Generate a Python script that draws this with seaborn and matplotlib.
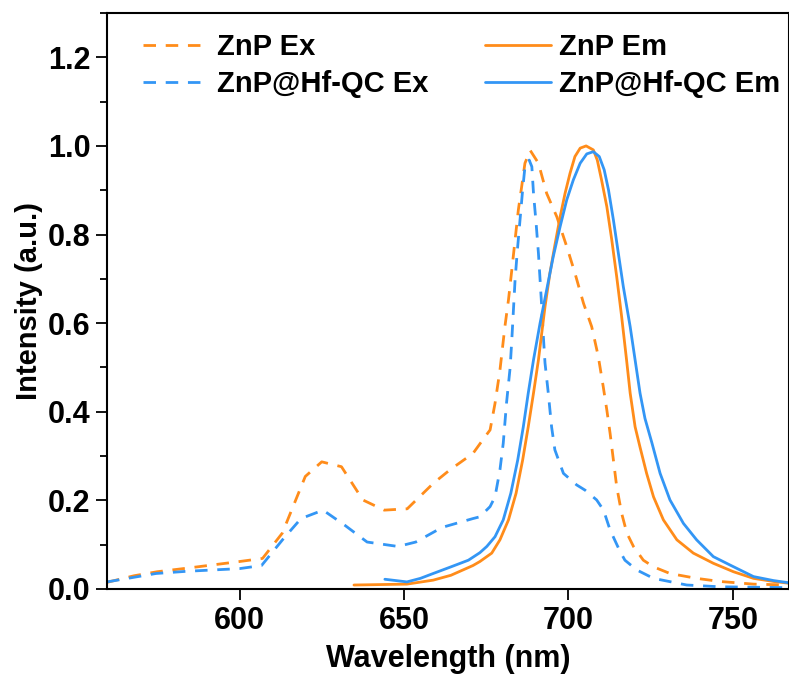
import numpy as np
import pandas as pd
import matplotlib
matplotlib.use("Agg")
import matplotlib.pyplot as plt
import seaborn as sns
from matplotlib.ticker import MultipleLocator

# ---- data ----
znp_ex_wl = [559.7, 568, 575, 584, 600, 607, 613, 620, 625, 631, 637.5, 644, 651, 659, 664,
             671, 674.7, 676.2, 677.7, 679.2, 680.7, 681.8, 682.8, 683.8, 684.8, 685.8, 686.8,
             688.4, 690.9, 693.4, 696.5, 699.5, 702.0, 704.6, 707.1, 709.1, 710.6, 711.7, 712.7,
             713.7, 714.7, 716.2, 717.8, 719.8, 722.8, 725.9, 730.9, 739.0, 746.1, 756.3, 767.1]
znp_ex_int = [0.015, 0.030, 0.039, 0.047, 0.062, 0.069, 0.126, 0.254, 0.287, 0.276, 0.201, 0.178,
              0.181, 0.239, 0.269, 0.306, 0.344, 0.359, 0.419, 0.494, 0.592, 0.653, 0.720, 0.788,
              0.856, 0.908, 0.961, 0.990, 0.961, 0.893, 0.840, 0.773, 0.713, 0.645, 0.592, 0.525,
              0.457, 0.404, 0.351, 0.291, 0.231, 0.171, 0.126, 0.096, 0.065, 0.050, 0.035, 0.024,
              0.017, 0.011, 0.009]

hf_ex_wl = [559.7, 574.6, 584, 600, 606.7, 613.4, 618.7, 625.4, 632, 638.8, 648.2, 653.6, 661.6,
            671, 673.1, 676.2, 677.7, 679.2, 680.2, 681.2, 682.3, 682.8, 683.3, 683.8, 684.5,
            685.3, 686.1, 686.8, 688.1, 688.9, 689.4, 690.2, 690.9, 691.4, 691.9, 692.4, 692.9,
            693.9, 694.9, 695.9, 698.5, 702.5, 705.1, 708.6, 710.7, 712.7, 715.7, 717.2, 720.8,
            725.9, 736.0, 746.1, 767.1]
hf_ex_int = [0.016, 0.035, 0.040, 0.046, 0.053, 0.114, 0.159, 0.178, 0.144, 0.106, 0.096, 0.106,
             0.139, 0.159, 0.163, 0.186, 0.208, 0.269, 0.329, 0.420, 0.500, 0.562, 0.630, 0.698,
             0.765, 0.833, 0.901, 0.953, 0.968, 0.953, 0.893, 0.825, 0.758, 0.698, 0.637, 0.570,
             0.510, 0.442, 0.366, 0.314, 0.261, 0.235, 0.223, 0.201, 0.178, 0.133, 0.085, 0.065,
             0.043, 0.024, 0.009, 0.005, 0.003]

znp_em_wl = [634.8, 650.9, 658.9, 664.3, 671, 673.1, 676.7, 679.2, 681.8, 684.1, 686.1, 687.8,
             689.4, 690.9, 692.9, 694.4, 696.0, 697.5, 699.0, 700.5, 702.0, 703.6, 705.4, 707.6,
             708.8, 710.1, 711.7, 713.2, 714.7, 716.2, 717.7, 718.8, 720.3, 721.8, 723.8, 725.9,
             728.9, 733.0, 738.0, 744.1, 750.2, 756.3, 762.4, 767.1]
znp_em_int = [0.009, 0.011, 0.020, 0.031, 0.053, 0.062, 0.081, 0.111, 0.156, 0.216, 0.291, 0.366,
              0.442, 0.517, 0.637, 0.713, 0.780, 0.840, 0.893, 0.938, 0.976, 0.995, 1.000, 0.991,
              0.968, 0.923, 0.863, 0.788, 0.705, 0.615, 0.517, 0.442, 0.366, 0.320, 0.261, 0.208,
              0.156, 0.111, 0.081, 0.058, 0.039, 0.024, 0.017, 0.013]

hf_em_wl = [644.2, 650.9, 655, 658.9, 664.3, 669.6, 673.1, 675.2, 677.7, 680.2, 682.5, 684.6,
            686.3, 687.8, 689.4, 691.4, 693.4, 695.4, 697.5, 699.5, 701.5, 703.6, 705.6, 707.6,
            709.4, 710.9, 712.2, 713.7, 715.2, 716.7, 718.8, 720.3, 721.8, 723.3, 725.4, 727.9,
            730.9, 735.0, 739.0, 744.1, 749.2, 756.3, 762.4, 767.1]
hf_em_int = [0.022, 0.016, 0.024, 0.035, 0.050, 0.065, 0.082, 0.096, 0.118, 0.156, 0.216, 0.291,
             0.366, 0.442, 0.517, 0.600, 0.675, 0.750, 0.818, 0.878, 0.923, 0.961, 0.982, 0.987,
             0.976, 0.946, 0.901, 0.833, 0.758, 0.683, 0.592, 0.517, 0.442, 0.385, 0.330, 0.261,
             0.201, 0.148, 0.111, 0.073, 0.054, 0.028, 0.019, 0.014]

labels = ["ZnP Ex", "ZnP@Hf-QC Ex", "ZnP Em", "ZnP@Hf-QC Em"]
x_ticks = [600, 650, 700, 750]
y_ticks = [0.0, 0.2, 0.4, 0.6, 0.8, 1.0, 1.2]

ORANGE = "#FF8C1A"
BLUE = "#3396F5"

sns.set_theme(style="ticks")
plt.rcParams['font.family'] = ['Liberation Sans', 'DejaVu Sans']
plt.rcParams['font.weight'] = 'bold'
for k in ['text.color', 'axes.labelcolor', 'xtick.color', 'ytick.color', 'axes.edgecolor']:
    plt.rcParams[k] = 'black'

fig = plt.figure(figsize=(7.89, 6.79), dpi=100)
ax = fig.add_axes([107/789, 1-589/679, 1-107/789, (589-13)/679])

series = [
    (znp_ex_wl, znp_ex_int, labels[0], ORANGE, "--"),
    (hf_ex_wl, hf_ex_int, labels[1], BLUE, "--"),
    (znp_em_wl, znp_em_int, labels[2], ORANGE, "-"),
    (hf_em_wl, hf_em_int, labels[3], BLUE, "-"),
]
for wl, it, lab, col, ls in series:
    df = pd.DataFrame({"wl": wl, "I": it})
    sns.lineplot(data=df, x="wl", y="I", ax=ax, color=col, lw=2.0, label=lab,
                 sort=False, estimator=None)
    line = ax.lines[-1]
    if ls == "--":
        line.set_dashes((4.5, 3.5))

ax.set_xlim(559.7, 767.1)
ax.set_ylim(0, 1.3)
ax.set_xticks(x_ticks)
ax.set_yticks(y_ticks)
ax.yaxis.set_minor_locator(MultipleLocator(0.1))
ax.set_yticklabels([f"{v:.1f}" for v in y_ticks])
ax.tick_params(axis='both', which='major', direction='out', length=8, width=1.3,
               labelsize=22, pad=4)
ax.tick_params(axis='y', which='minor', direction='out', length=5, width=1.3)
for lab in ax.get_xticklabels() + ax.get_yticklabels():
    lab.set_fontweight('bold')
for s in ax.spines.values():
    s.set_linewidth(1.5)
    s.set_color('black')
ax.set_xlabel("Wavelength (nm)", fontsize=22, fontweight='bold', labelpad=6)
ax.set_ylabel("Intensity (a.u.)", fontsize=21, fontweight='bold', labelpad=3)

leg = ax.legend(ncol=2, loc='upper left', frameon=False, fontsize=21,
                handlelength=2.25, handletextpad=0.28, columnspacing=1.95,
                labelspacing=0.3, bbox_to_anchor=(0.036, 0.985), borderaxespad=0)
for t in leg.get_texts():
    t.set_fontweight('bold')

fig.savefig("out.png", dpi=100)
